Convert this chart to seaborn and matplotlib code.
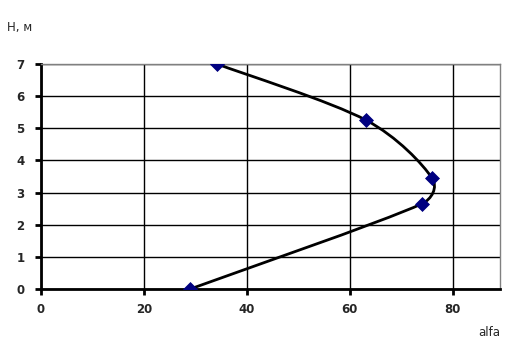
import numpy as np
import pandas as pd
import seaborn as sns
import matplotlib
matplotlib.use("Agg")
import matplotlib.pyplot as plt
from matplotlib.path import Path
from matplotlib.patches import PathPatch

alfa = [29.0, 74.0, 76.0, 63.2, 34.2]
height = [0.0, 2.65, 3.45, 5.25, 7.0]
x_ticks = [0, 20, 40, 60, 80]
y_ticks = [0, 1, 2, 3, 4, 5, 6, 7]

sns.set_theme(style="white")
plt.rcParams['font.family'] = ['DejaVu Sans']

fig = plt.figure(figsize=(5.25, 3.64), dpi=100)
ax = fig.add_axes([41/525, 1-289/364, (500-41)/525, (289-64)/364])
ax.set_xlim(0, 89.2)
ax.set_ylim(0, 7)
ax.set_xticks(x_ticks)
ax.set_yticks(y_ticks)
ax.grid(True, color='black', linewidth=1.0)
ax.set_axisbelow(True)

df = pd.DataFrame({"alfa": alfa, "H": height})

# smoothed line (Catmull-Rom tangents, control length clipped), display space
fig.canvas.draw()
pts = ax.transData.transform(np.column_stack([alfa, height]))
n = len(pts)
tang = []
for i in range(n):
    a = pts[i - 1] if i > 0 else pts[i]
    b = pts[i + 1] if i < n - 1 else pts[i]
    tang.append(b - a)
verts = [pts[0]]
codes = [Path.MOVETO]
for i in range(n - 1):
    p1 = pts[i]
    p2 = pts[i + 1]
    d = np.linalg.norm(p2 - p1)
    out = []
    for t in (tang[i], tang[i + 1]):
        L = np.linalg.norm(t)
        length = min(L / 6.0, 0.4 * d)
        out.append(t / L * length)
    c1 = p1 + out[0]
    c2 = p2 - out[1]
    verts += [c1, c2, p2]
    codes += [Path.CURVE4] * 3
verts = ax.transData.inverted().transform(np.array(verts))
patch = PathPatch(Path(verts, codes), facecolor='none', edgecolor='black',
                  linewidth=2.0, zorder=3)
ax.add_patch(patch)

sns.scatterplot(data=df, x="alfa", y="H", ax=ax, marker='D', s=50,
                color='#000080', edgecolor='#000080', zorder=4, legend=False)

ax.set_xlabel("")
ax.set_ylabel("")
for side in ['top', 'right']:
    ax.spines[side].set_color('#808080')
    ax.spines[side].set_linewidth(1.0)
for side in ['left', 'bottom']:
    ax.spines[side].set_color('black')
    ax.spines[side].set_linewidth(2.0)
ax.tick_params(axis='both', which='major', direction='out', length=4, width=2,
               color='black', labelsize=8.5, bottom=True, left=True)
ax.tick_params(axis='x', pad=6)
ax.tick_params(axis='y', pad=8)
for lab in ax.get_xticklabels() + ax.get_yticklabels():
    lab.set_fontweight('bold')

fig.text(7/525, 1-28/364, "H, м", fontsize=8.5, ha='left', va='center')
fig.text(478/525, 1-332/364, "alfa", fontsize=8.5, ha='left', va='center')

fig.savefig("out.png", dpi=100, facecolor='white')
